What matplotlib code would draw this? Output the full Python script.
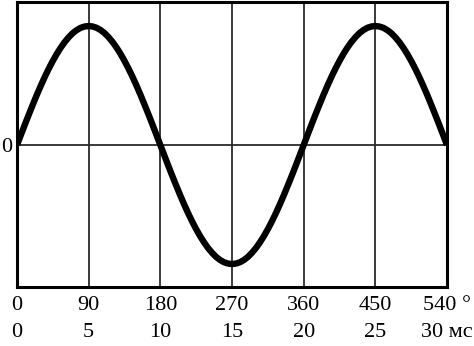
import matplotlib
matplotlib.use('Agg')
import matplotlib.pyplot as plt

# phase angle in degrees (5 degree steps) and the wave value
degrees = list(range(0, 541, 5))
quarter = [0.0, 0.087, 0.174, 0.259, 0.342, 0.423, 0.5, 0.574, 0.643, 0.707,
           0.766, 0.819, 0.866, 0.906, 0.94, 0.966, 0.985, 0.996]
rise = quarter + [1.0] + quarter[::-1][:-1]
values = rise + [-v for v in rise] + rise + [0.0]

tick_deg = [0, 90, 180, 270, 360, 450, 540]
deg_labels = ['0', '90', '180', '270', '360', '450', '540 °']
ms_labels = ['0', '5', '10', '15', '20', '25', '30 мс']

plt.rcParams['font.family'] = ['Liberation Serif', 'DejaVu Serif']

fig = plt.figure(figsize=(4.74, 3.46), dpi=100)
ax = fig.add_axes([17 / 474, 59 / 346, 430 / 474, 285.5 / 346])

for d in tick_deg[1:-1]:
    ax.axvline(d, color='#2a2a2a', lw=1.3, zorder=1)
ax.axhline(0, color='#2a2a2a', lw=1.3, zorder=1)

ax.plot(degrees, values, color='black', lw=4.6, solid_capstyle='butt', zorder=3)

ax.set_xlim(0, 540)
ax.set_ylim(-1.193, 1.206)

# degrees row
ax.set_xticks(tick_deg)
ax.set_xticklabels(deg_labels, fontsize=16)
ax.set_yticks([0])
ax.set_yticklabels(['0'], fontsize=16)
ax.tick_params(axis='both', length=0)
ax.tick_params(axis='x', pad=6.5)
ax.tick_params(axis='y', pad=3.6)

# milliseconds row
sec = ax.secondary_xaxis('bottom')
sec.set_xticks(tick_deg)
sec.set_xticklabels(ms_labels, fontsize=16)
sec.tick_params(length=0, pad=26)
sec.spines['bottom'].set_visible(False)

for s in ax.spines.values():
    s.set_linewidth(2.2)
    s.set_color('black')

fig.savefig('out.png', dpi=100)
